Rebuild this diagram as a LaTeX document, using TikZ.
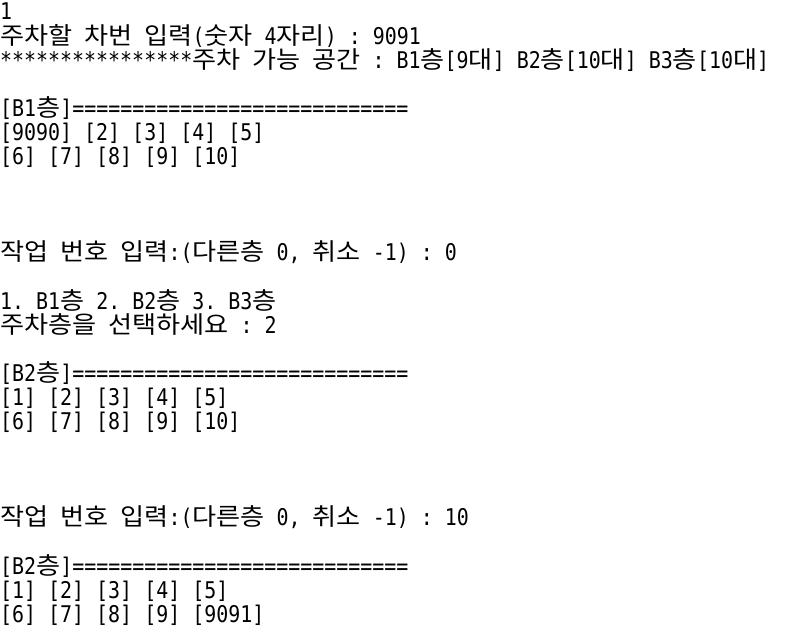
\documentclass[tikz,border=0pt]{standalone}
\usepackage{fontspec}
\setmainfont{DejaVu Sans Mono}[FakeStretch=0.867]
\newfontfamily\hangulfont[Scale=1.043,FakeStretch=1.09]{Noto Sans CJK KR}
\newcommand{\ko}[1]{{\hangulfont #1}}
\usetikzlibrary{positioning}

\begin{document}
\begin{tikzpicture}[x=1pt,y=-1pt]
	\tikzset{conline/.style = {anchor=base west,inner sep=0,text height=17pt,text depth=4pt,text=black,font=\fontsize{23}{24}\selectfont\frenchspacing}}
	\fill[white] (0,0) rectangle (794,636);
	\useasboundingbox (0,0) rectangle (794,636);
	% input of the car number
	\node[conline] (num)    at (0,20)     {1};
	\node[conline] (carin)  at (0,44.1)   {\ko{주차할} \ko{차번} \ko{입력}(\ko{숫자} 4\ko{자리}) : 9091};
	\node[conline] (stars)  at (0,68.2)   {****************\ko{주차} \ko{가능} \ko{공간} : B1\ko{층}[9\ko{대}] B2\ko{층}[10\ko{대}] B3\ko{층}[10\ko{대}]};
	% floor B1
	\node[conline] (bahead) at (0,116.4)  {[B1\ko{층}]============================};
	\node[conline] (barowa) at (0,140.5)  {[9090] [2] [3] [4] [5]};
	\node[conline] (barowb) at (0,164.6)  {[6] [7] [8] [9] [10]};
	\node[conline] (joba)   at (0,260.9)  {\ko{작업} \ko{번호} \ko{입력}:(\ko{다른층} 0, \ko{취소} -1) : 0};
	% choice of floor
	\node[conline] (floors) at (0,309.1)  {1. B1\ko{층} 2. B2\ko{층} 3. B3\ko{층}};
	\node[conline] (pick)   at (0,333.2)  {\ko{주차층을} \ko{선택하세요} : 2};
	% floor B2
	\node[conline] (bbhead) at (0,381.4)  {[B2\ko{층}]============================};
	\node[conline] (bbrowa) at (0,405.5)  {[1] [2] [3] [4] [5]};
	\node[conline] (bbrowb) at (0,429.6)  {[6] [7] [8] [9] [10]};
	\node[conline] (jobb)   at (0,525.9)  {\ko{작업} \ko{번호} \ko{입력}:(\ko{다른층} 0, \ko{취소} -1) : 10};
	% floor B2 after parking
	\node[conline] (bchead) at (0,574.1)  {[B2\ko{층}]============================};
	\node[conline] (bcrowa) at (0,598.2)  {[1] [2] [3] [4] [5]};
	\node[conline] (bcrowb) at (0,622.3)  {[6] [7] [8] [9] [9091]};
\end{tikzpicture}
\end{document}
